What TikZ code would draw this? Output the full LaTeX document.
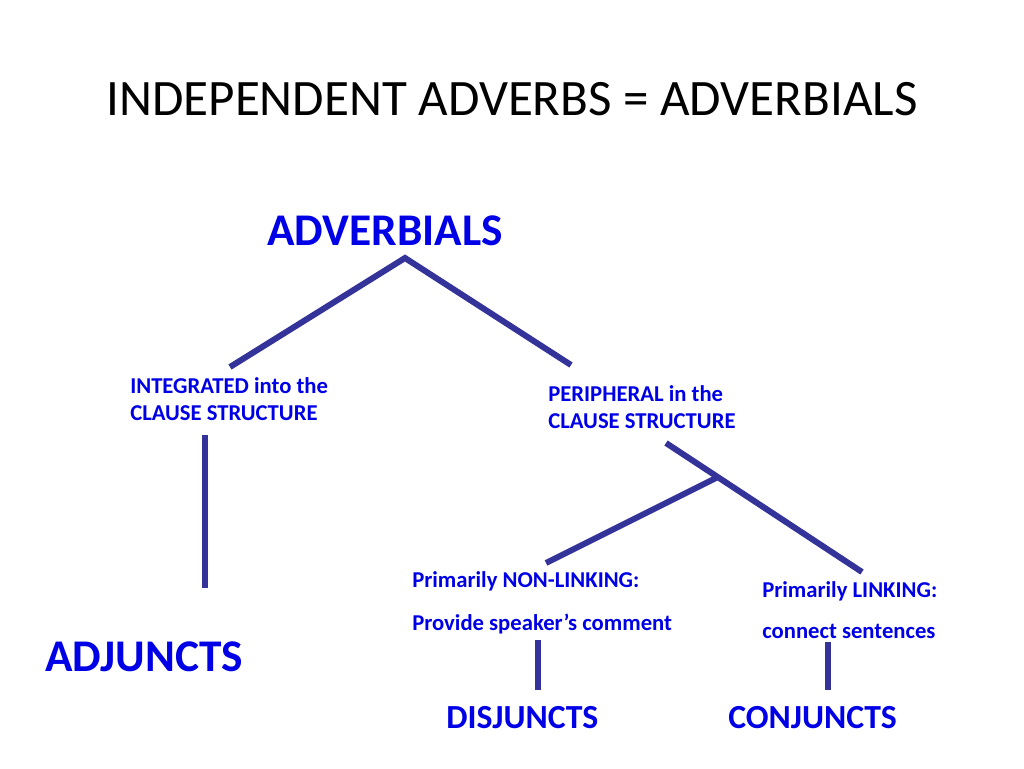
\documentclass[tikz,border=0pt]{standalone}
\usepackage{fontspec}
\setmainfont{Carlito}
\definecolor{txtblue}{RGB}{0,0,230}
\definecolor{linecol}{RGB}{51,51,153}
\begin{document}
\begin{tikzpicture}[x=0.75pt,y=-0.75pt,
  lbl/.style={anchor=base west,inner sep=0pt,text=txtblue,font=\bfseries\fontsize{17}{20}\selectfont},
  big/.style={anchor=base west,inner sep=0pt,text=txtblue,font=\bfseries\fontsize{34}{40}\selectfont},
  mid/.style={anchor=base west,inner sep=0pt,text=txtblue,font=\bfseries\fontsize{25.3}{30}\selectfont},
  branch/.style={draw=linecol,line width=4.5pt}]
\useasboundingbox[fill=white] (0,0) rectangle (1024,768);
\node[anchor=base,inner sep=0pt,font=\fontsize{38.3}{46}\selectfont] (title) at (512,115) {INDEPENDENT ADVERBS = ADVERBIALS};
\node[big] (adv) at (267,245) {ADVERBIALS};
\node[lbl] (int1) at (130,393) {INTEGRATED into the};
\node[lbl] (int2) at (130,420) {CLAUSE STRUCTURE};
\node[lbl] (per1) at (548,401) {PERIPHERAL in the};
\node[lbl] (per2) at (548,428) {CLAUSE STRUCTURE};
\node[big] (adj) at (45,671) {ADJUNCTS};
\node[lbl] (nl1) at (412,587) {Primarily NON-LINKING:};
\node[lbl] (nl2) at (412,630) {Provide speaker’s comment};
\node[lbl] (l1) at (762,597) {Primarily LINKING:};
\node[lbl] (l2) at (762,638) {connect sentences};
\node[mid] (dis) at (446,728) {DISJUNCTS};
\node[mid] (con) at (728,728) {CONJUNCTS};
\coordinate (top) at (405,258);
\coordinate (lt) at (230,367);
\coordinate (rt) at (571,365);
\coordinate (v1a) at (205,435);
\coordinate (v1b) at (205,588);
\coordinate (pa) at (666,443);
\coordinate (pb) at (862,572);
\coordinate (j) at (718,477);
\coordinate (nlb) at (546,563);
\coordinate (v2a) at (538,640);
\coordinate (v2b) at (538,690);
\coordinate (v3a) at (828,642);
\coordinate (v3b) at (828,690);
\draw[branch] (lt) -- (top) -- (rt);
\draw[branch] (v1a) -- (v1b);
\draw[branch] (pa) -- (pb);
\draw[branch] (j) -- (nlb);
\draw[branch] (v2a) -- (v2b);
\draw[branch] (v3a) -- (v3b);
\end{tikzpicture}
\end{document}
